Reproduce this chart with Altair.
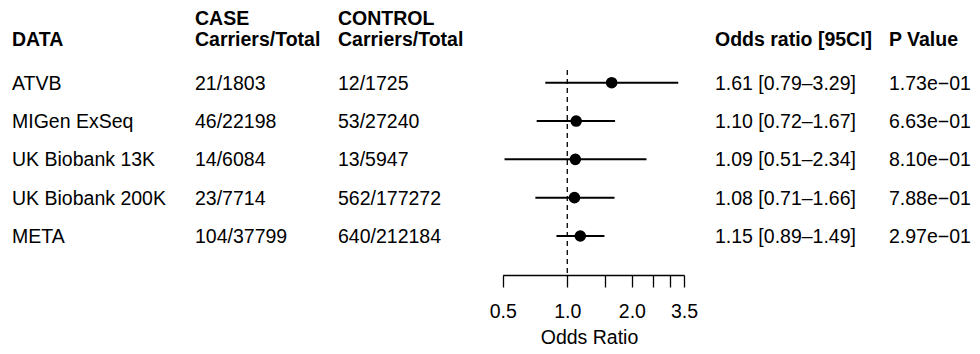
import altair as alt
import pandas as pd

# ---- data ----
studies = ["ATVB", "MIGen ExSeq", "UK Biobank 13K", "UK Biobank 200K", "META"]
case_counts = ["21/1803", "46/22198", "14/6084", "23/7714", "104/37799"]
control_counts = ["12/1725", "53/27240", "13/5947", "562/177272", "640/212184"]
odds = [1.61, 1.10, 1.09, 1.08, 1.15]
ci_lo = [0.79, 0.72, 0.51, 0.71, 0.89]
ci_hi = [3.29, 1.67, 2.34, 1.66, 1.49]
p_values = ["1.73e\u221201", "6.63e\u221201", "8.10e\u221201", "7.88e\u221201", "2.97e\u221201"]
axis_ticks = [0.5, 1.0, 1.5, 2.0, 2.5, 3.0, 3.5]
axis_labels = [0.5, 1.0, 2.0, 3.5]

or_text = [f"{o:.2f} [{l:.2f}\u2013{h:.2f}]" for o, l, h in zip(odds, ci_lo, ci_hi)]

df = pd.DataFrame({
    "row": list(range(1, len(studies) + 1)),
    "study": studies,
    "case": case_counts,
    "control": control_counts,
    "odds": odds,
    "lo": ci_lo,
    "hi": ci_hi,
    "ortext": or_text,
    "p": p_values,
})

# ---- layout ----
TOP = 6
W, H = 964, 267 - TOP
BOTTOM = 338 - 267
FONT = "Liberation Sans"
FS = 19.5
COL_DATA, COL_CASE, COL_CTRL, COL_OR, COL_P = 4, 187, 330, 707, 881
HDR1, HDR2 = -0.70, -0.14

x_scale = alt.Scale(type="log", domain=[0.5, 3.5], range=[494.7, 676])
y_scale = alt.Scale(domain=[1, 5], range=[74.7 - TOP, 228 - TOP])

label_list = ",".join(str(v) for v in axis_labels)
x_axis = alt.Axis(
    values=axis_ticks,
    labelExpr=f"indexof([{label_list}], datum.value) >= 0 ? format(datum.value, '.1f') : ''",
    grid=False,
    tickSize=12,
    tickColor="black",
    tickWidth=1.3,
    domainColor="black",
    domainWidth=1.3,
    labelFont=FONT,
    labelFontSize=FS,
    labelColor="black",
    labelBaseline="middle",
    labelPadding=24,
    labelFlush=False,
    labelOverlap=False,
    title="Odds Ratio",
    titleFont=FONT,
    titleFontSize=FS,
    titleFontWeight="normal",
    titleColor="black",
    titleBaseline="middle",
    titleY=62,
    titleX=581,
)

base = alt.Chart(df)

ref = alt.Chart(pd.DataFrame({"v": [1.0]})).mark_rule(
    strokeDash=[5, 4], strokeWidth=1.3, color="black"
).encode(
    x=alt.X("v:Q", scale=x_scale, axis=x_axis),
    y=alt.YDatum(0.67, scale=y_scale, axis=None),
    y2=alt.value(H),
)

ci = base.mark_rule(color="black", strokeWidth=2).encode(
    x=alt.X("lo:Q", scale=x_scale, axis=x_axis),
    x2="hi:Q",
    y=alt.Y("row:Q", scale=y_scale, axis=None),
)

pts = base.mark_point(filled=True, shape="circle", size=135, color="black", opacity=1).encode(
    x=alt.X("odds:Q", scale=x_scale, axis=x_axis),
    y=alt.Y("row:Q", scale=y_scale, axis=None),
)


def col_text(field, xpos):
    return base.mark_text(
        align="left", baseline="middle", font=FONT, fontSize=FS, color="black", dy=1
    ).encode(
        x=alt.value(xpos),
        y=alt.Y("row:Q", scale=y_scale, axis=None),
        text=f"{field}:N",
    )


def header(txt, xpos, line):
    return alt.Chart(pd.DataFrame({"t": [txt]})).mark_text(
        align="left", baseline="middle", font=FONT, fontSize=FS,
        fontWeight="bold", color="black", dy=1
    ).encode(
        x=alt.value(xpos),
        y=alt.YDatum(line, scale=y_scale, axis=None),
        text="t:N",
    )


layers = [
    ref, ci, pts,
    col_text("study", COL_DATA),
    col_text("case", COL_CASE),
    col_text("control", COL_CTRL),
    col_text("ortext", COL_OR),
    col_text("p", COL_P),
    header("DATA", COL_DATA, HDR2),
    header("CASE", COL_CASE, HDR1),
    header("Carriers/Total", COL_CASE, HDR2),
    header("CONTROL", COL_CTRL, HDR1),
    header("Carriers/Total", COL_CTRL, HDR2),
    header("Odds ratio [95CI]", COL_OR, HDR2),
    header("P Value", COL_P, HDR2),
]

chart = alt.layer(*layers).properties(
    width=W,
    height=H,
    padding={"left": 0, "top": TOP, "right": 0, "bottom": BOTTOM},
    autosize=alt.AutoSizeParams(type="none"),
).configure_view(stroke=None)

chart.save("out.html", embed_options={"renderer": "svg", "actions": False})
